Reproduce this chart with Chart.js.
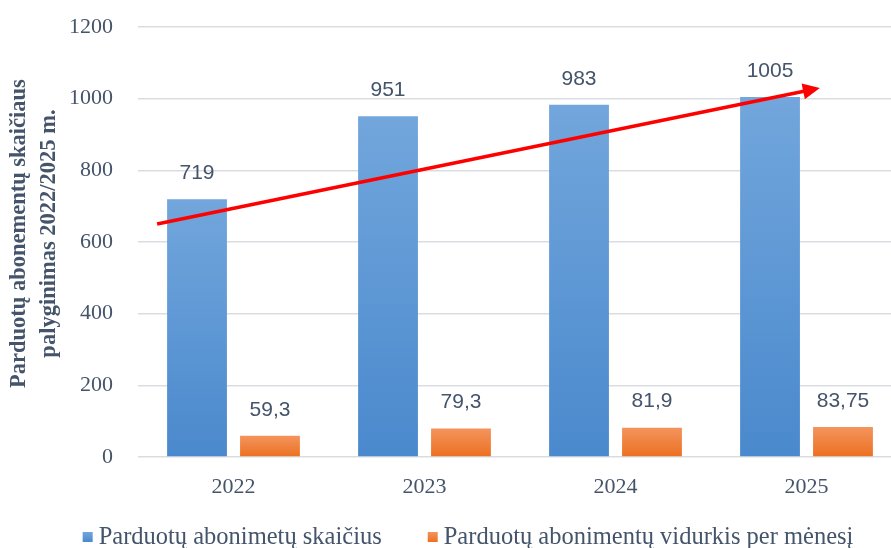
<!DOCTYPE html>
<html>
<head>
<meta charset="utf-8">
<script src="https://cdn.jsdelivr.net/npm/chart.js@4.4.1/dist/chart.umd.min.js"></script>
<style>
    html, body { margin: 0; padding: 0; overflow: hidden; background: #FFFFFF; }
    #wrap { width: 902px; height: 548px; }
</style>
</head>
<body>
<div id="wrap"><canvas id="chart"></canvas></div>
<script>
// ---- data ----
const years = ['2022', '2023', '2024', '2025'];
const soldCount = [719, 951, 983, 1005];
const monthlyAvg = [59.3, 79.3, 81.9, 83.75];
const seriesNames = ['Parduotų abonimetų skaičius', 'Parduotų abonimentų vidurkis per mėnesį'];
const axisTitle = ['Parduotų abonementų skaičiaus', 'palyginimas 2022/2025 m.'];
const yTicks = [0, 200, 400, 600, 800, 1000, 1200];
// trend arrow, in (category index, value) units
const arrowX = [-0.4, 3.07];
const arrowY = [650, 1030];

const Colors = {
    text: '#44546A',
    grid: '#D9DDE2',
    blue: ['#72A6DC', '#4A89CD'],
    orange: ['#F3945D', '#EC7020'],
    arrow: '#FF0000',
};
const SERIF = '"Liberation Serif", "Times New Roman", serif';

function barGradient(pair) {
    return (ctx) => {
        const chart = ctx.chart;
        const y = chart.scales.y;
        if (!chart.chartArea || ctx.raw == null) return pair[1];
        const top = y.getPixelForValue(ctx.raw);
        const bottom = y.getPixelForValue(0);
        const g = chart.ctx.createLinearGradient(0, top, 0, bottom);
        g.addColorStop(0, pair[0]);
        g.addColorStop(1, pair[1]);
        return g;
    };
}

const fmt = (v) => String(v).replace('.', ',');

// value labels above bars
const barLabels = {
    id: 'barLabels',
    afterDatasetsDraw(chart) {
        const ctx = chart.ctx;
        ctx.save();
        ctx.font = '21px "Liberation Sans", Arial, sans-serif';
        ctx.fillStyle = Colors.text;
        ctx.textAlign = 'center';
        ctx.textBaseline = 'middle';
        chart.data.datasets.forEach((ds, di) => {
            chart.getDatasetMeta(di).data.forEach((bar, i) => {
                ctx.fillText(fmt(ds.data[i]), bar.x, bar.y - 26);
            });
        });
        ctx.restore();
    },
};

// red trend arrow drawn through the category / value scales
const trendArrow = {
    id: 'trendArrow',
    afterDatasetsDraw(chart) {
        const xs = chart.scales.x, ys = chart.scales.y;
        const x0 = xs.getPixelForValue(0);
        const step = xs.getPixelForValue(1) - x0;
        const px = arrowX.map((c) => x0 + c * step);
        const py = arrowY.map((v) => ys.getPixelForValue(v));
        const ang = Math.atan2(py[1] - py[0], px[1] - px[0]);
        const len = 17, half = 8;
        const ctx = chart.ctx;
        ctx.save();
        ctx.strokeStyle = Colors.arrow;
        ctx.fillStyle = Colors.arrow;
        ctx.lineWidth = 3.5;
        ctx.beginPath();
        ctx.moveTo(px[0], py[0]);
        ctx.lineTo(px[1] - Math.cos(ang) * (len - 2), py[1] - Math.sin(ang) * (len - 2));
        ctx.stroke();
        ctx.translate(px[1], py[1]);
        ctx.rotate(ang);
        ctx.beginPath();
        ctx.moveTo(0, 0);
        ctx.lineTo(-len, -half);
        ctx.lineTo(-len, half);
        ctx.closePath();
        ctx.fill();
        ctx.restore();
    },
};

// legend row under the axis, centred like the original
const bottomLegend = {
    id: 'bottomLegend',
    afterDraw(chart) {
        const ctx = chart.ctx;
        const items = [
            { text: seriesNames[0], color: Colors.blue },
            { text: seriesNames[1], color: Colors.orange },
        ];
        const box = 10, gap = 6, spacing = 46, cy = 537, cx = 468;
        ctx.save();
        ctx.font = '24.5px ' + SERIF;
        ctx.textBaseline = 'middle';
        const widths = items.map((it) => box + gap + ctx.measureText(it.text).width);
        const total = widths.reduce((a, b) => a + b, 0) + spacing * (items.length - 1);
        let x = cx - total / 2;
        items.forEach((it, i) => {
            const g = ctx.createLinearGradient(0, cy - box / 2, 0, cy + box / 2);
            g.addColorStop(0, it.color[0]);
            g.addColorStop(1, it.color[1]);
            ctx.fillStyle = g;
            ctx.fillRect(x, cy - box / 2, box, box);
            ctx.fillStyle = Colors.text;
            ctx.fillText(it.text, x + box + gap, cy + 1);
            x += widths[i] + spacing;
        });
        ctx.restore();
    },
};

new Chart(document.getElementById('chart'), {
    type: 'bar',
    data: {
        labels: years,
        datasets: [
            {
                label: seriesNames[0],
                data: soldCount,
                backgroundColor: barGradient(Colors.blue),
            },
            {
                label: seriesNames[1],
                data: monthlyAvg,
                backgroundColor: barGradient(Colors.orange),
            },
        ],
    },
    options: {
        responsive: true,
        maintainAspectRatio: false,
        animation: false,
        layout: { padding: { top: 27, left: 0, right: 0, bottom: 0 } },
        datasets: {
            bar: { categoryPercentage: 0.764, barPercentage: 0.82 },
        },
        scales: {
            x: {
                grid: { display: false },
                border: { display: false },
                ticks: {
                    font: { family: SERIF, size: 22 },
                    color: Colors.text,
                    padding: 9,
                },
                afterFit: (s) => { s.height = 91; },
            },
            y: {
                min: 0,
                max: 1200,
                afterBuildTicks: (s) => { s.ticks = yTicks.map((v) => ({ value: v })); },
                grid: { color: Colors.grid, lineWidth: 1.5, drawTicks: false },
                border: { display: false },
                ticks: {
                    font: { family: SERIF, size: 22 },
                    color: Colors.text,
                    padding: 25,
                    callback: (v) => String(v),
                },
                title: {
                    display: true,
                    // leading spaces lift the rotated title a little, as in the original
                    text: axisTitle.map((s) => '   ' + s),
                    color: Colors.text,
                    font: { family: SERIF, size: 22.5, weight: 'bold', lineHeight: 1.33 },
                    padding: { top: 4, bottom: 0 },
                },
                afterFit: (s) => {
                    s.width = 138;
                    // tick padding is horizontal only here; don't let it eat plot height
                    s.paddingTop = 0;
                    s.paddingBottom = 0;
                },
            },
        },
        plugins: {
            legend: { display: false },
            tooltip: { enabled: false },
        },
    },
    plugins: [barLabels, trendArrow, bottomLegend],
});
</script>
</body>
</html>
